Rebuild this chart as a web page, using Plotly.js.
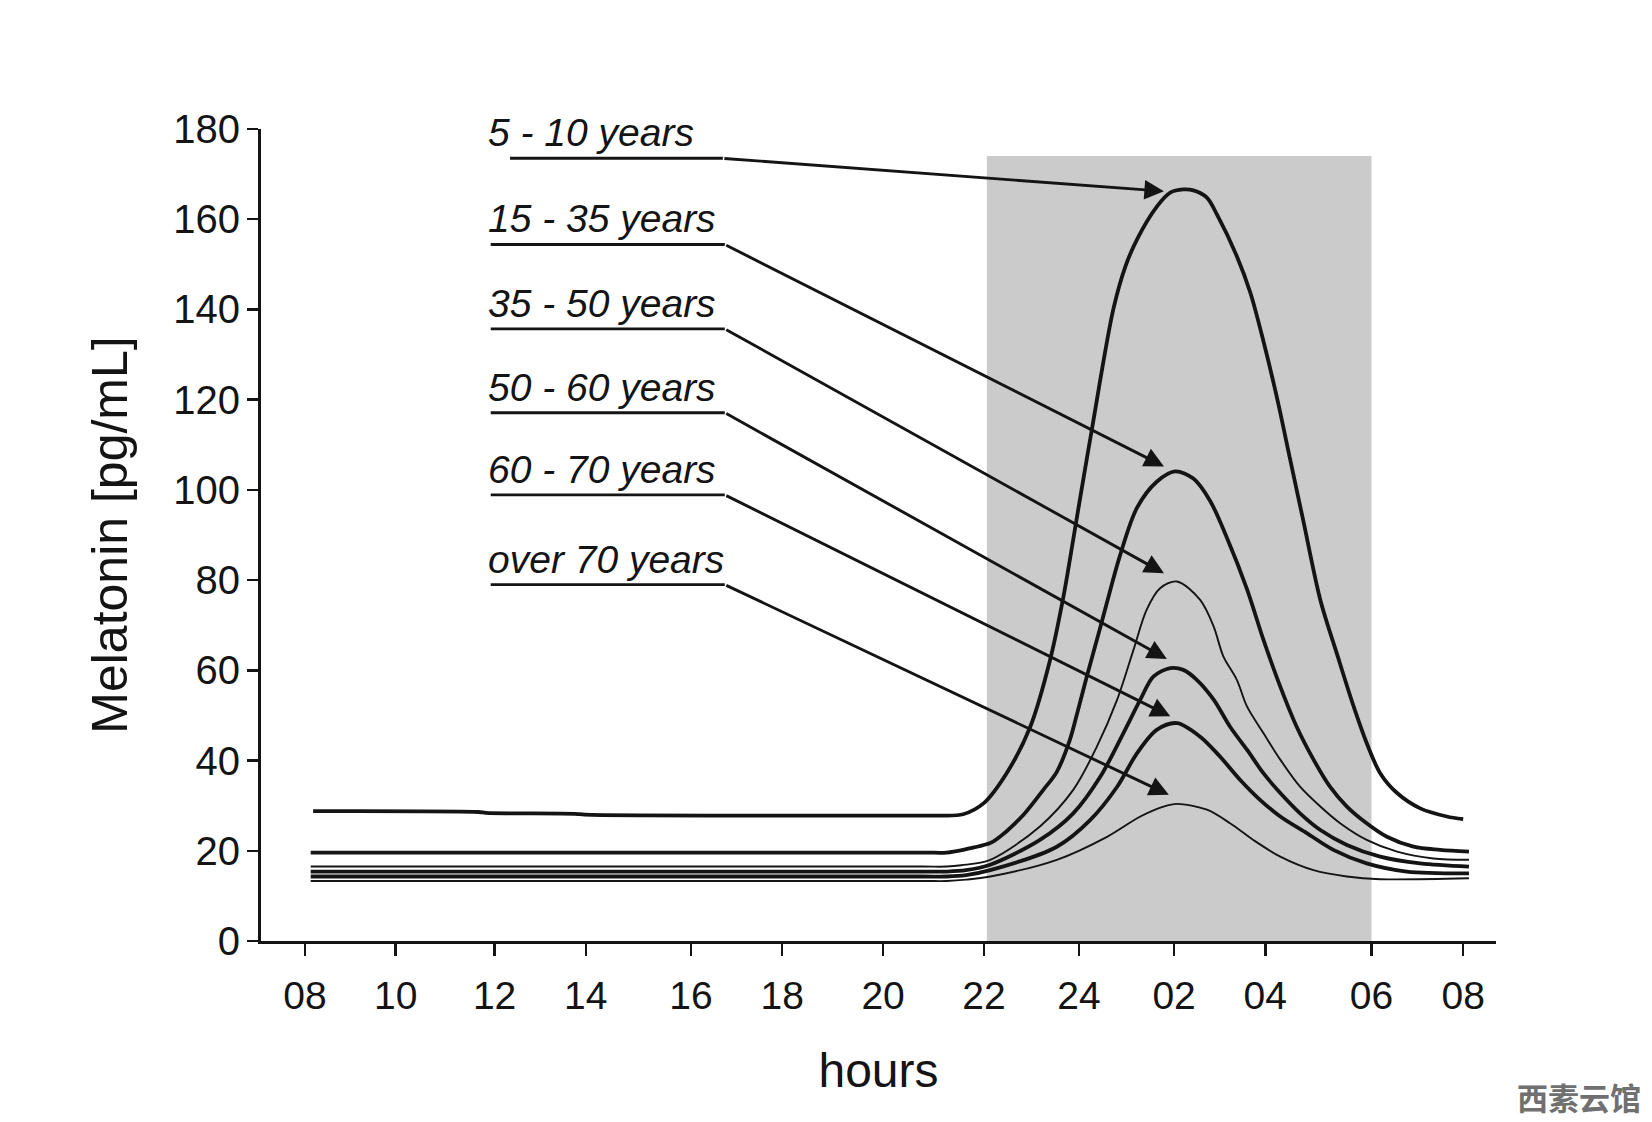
<!DOCTYPE html>
<html>
<head>
<meta charset="utf-8">
<script src="https://cdn.plot.ly/plotly-3.0.1.min.js"></script>
<style>
  html, body { margin: 0; padding: 0; background: #ffffff; }
  #chart { width: 1652px; height: 1122px; }
</style>
</head>
<body>
<div id="chart"></div>
<script>
// ---------- DATA ----------
// x: hours since 08:00 on the figure's own (slightly uneven) hour scale
const groups = ['5 - 10 years', '15 - 35 years', '35 - 50 years', '50 - 60 years', '60 - 70 years', 'over 70 years'];

const tickHours  = [0, 1.88, 3.93, 5.82, 8.0, 9.89, 11.98, 14.07, 16.04, 18.01, 19.90, 22.10, 24];
const tickLabels = ['08', '10', '12', '14', '16', '18', '20', '22', '24', '02', '04', '06', '08'];

const hours_5_10 = [0.17, 3.6, 3.75, 5.6, 5.8, 12.8, 13.2, 13.64, 14.06, 14.54, 15.03, 15.44, 15.72, 15.92, 16.06, 16.30, 16.75, 17.0, 17.24, 17.66, 17.93, 18.20, 18.41, 18.69, 18.90, 19.31, 19.59, 19.86, 20.14, 20.41, 20.69, 21.04, 21.38, 21.73, 22.0, 22.28, 22.63, 23.11, 23.66, 24.0];
const mel_5_10   = [28.8, 28.6, 28.4, 28.2, 28.0, 27.8, 27.8, 28.1, 30.5, 37.2, 47.5, 62.3, 76.5, 89.0, 98.0, 113.0, 140.0, 149.5, 155.5, 162.9, 165.9, 166.6, 166.4, 164.8, 161.0, 151.8, 143.7, 133.0, 120.5, 107.0, 93.0, 75.6, 63.8, 52.0, 43.9, 37.2, 32.8, 29.4, 27.6, 27.0];

const hours_15_35 = [0.12, 12.8, 13.3, 13.64, 14.2, 14.34, 14.89, 15.30, 15.58, 15.85, 15.99, 16.2, 16.48, 16.68, 16.89, 17.24, 17.65, 18.03, 18.41, 18.76, 19.10, 19.52, 19.86, 20.21, 20.55, 20.90, 21.24, 21.59, 22.0, 22.42, 22.97, 23.52, 24.12];
const mel_15_35   = [19.6, 19.6, 19.6, 20.2, 21.7, 22.6, 28.0, 33.5, 37.5, 44.6, 50.0, 58.6, 69.5, 77.5, 85.5, 96.0, 101.8, 104.1, 102.5, 97.5, 89.5, 78.0, 66.8, 56.4, 47.5, 40.2, 34.2, 29.8, 26.1, 23.1, 20.9, 20.2, 19.8];

const hours_35_50 = [0.12, 12.8, 13.3, 13.6, 14.2, 15.23, 15.92, 16.41, 16.83, 17.17, 17.44, 17.72, 18.07, 18.55, 18.83, 19.03, 19.31, 19.52, 19.86, 20.21, 20.62, 21.04, 21.45, 22.0, 22.63, 23.38, 24.12];
const mel_35_50   = [16.5, 16.5, 16.5, 16.8, 18.0, 25.4, 33.5, 43.1, 53.5, 64.6, 73.4, 78.2, 79.7, 75.6, 69.7, 63.1, 57.9, 52.0, 46.1, 40.2, 34.2, 29.8, 26.1, 22.4, 19.8, 18.3, 18.0];

const hours_50_60 = [0.12, 12.8, 13.3, 13.7, 14.2, 15.23, 15.92, 16.48, 16.96, 17.31, 17.58, 17.93, 18.2, 18.48, 18.83, 19.17, 19.52, 19.86, 20.21, 20.62, 21.04, 21.59, 22.28, 23.11, 24.12];
const mel_50_60   = [15.4, 15.4, 15.4, 15.7, 16.9, 22.4, 28.3, 36.4, 46.1, 53.5, 58.6, 60.5, 60.1, 57.9, 53.5, 47.5, 42.4, 37.2, 32.8, 28.3, 24.6, 21.3, 18.7, 17.2, 16.5];

const hours_60_70 = [0.12, 12.8, 13.3, 13.7, 14.2, 15.58, 16.27, 16.83, 17.24, 17.65, 18.07, 18.55, 18.96, 19.38, 19.79, 20.21, 20.76, 21.31, 22.0, 22.83, 24.12];
const mel_60_70   = [14.3, 14.3, 14.3, 14.6, 15.7, 20.9, 26.8, 34.2, 41.6, 46.8, 48.3, 45.3, 40.9, 35.7, 31.3, 27.6, 23.9, 20.2, 17.2, 15.4, 15.0];

const hours_over70 = [0.12, 12.8, 13.3, 13.7, 14.2, 15.58, 16.62, 17.31, 17.79, 18.07, 18.69, 19.17, 19.65, 20.21, 20.9, 21.59, 22.28, 24.12];
const mel_over70   = [13.3, 13.3, 13.3, 13.6, 14.3, 18.0, 23.1, 27.6, 29.8, 30.4, 29.1, 26.1, 22.4, 18.7, 15.7, 14.3, 13.7, 13.9];

// ---------- STYLE / LAYOUT ----------
const INK = '#141414';
const FONT = 'Liberation Sans, Arial, Helvetica, sans-serif';

const seriesX = [hours_5_10, hours_15_35, hours_35_50, hours_50_60, hours_60_70, hours_over70];
const seriesY = [mel_5_10, mel_15_35, mel_35_50, mel_50_60, mel_60_70, mel_over70];
const lineWidths = [3.8, 3.8, 1.9, 3.8, 3.8, 1.9];

const traces = groups.map((g, i) => ({
  type: 'scatter',
  mode: 'lines',
  name: g,
  x: seriesX[i],
  y: seriesY[i],
  line: { color: INK, width: lineWidths[i], shape: 'spline', smoothing: 0.9 },
  hoverinfo: 'skip',
  showlegend: false
}));

// label placement: [text x, underline start x, underline y, bend x, arrow tip x, arrow tip y]
const labelPlace = [
  [3.76, 4.25, 173.5, 8.66, 17.80, 166.2],
  [3.76, 3.85, 154.4, 8.70, 17.80, 105.2],
  [3.76, 3.85, 135.7, 8.70, 17.80, 81.5],
  [3.76, 3.85, 117.1, 8.70, 17.86, 62.5],
  [3.76, 3.85, 98.9, 8.70, 17.93, 49.8],
  [3.76, 3.85, 79.0, 8.70, 17.90, 32.4]
];

const shapes = [{
  type: 'rect', xref: 'x', yref: 'y', layer: 'below',
  x0: 14.13, x1: 22.10, y0: 0, y1: 174,
  fillcolor: '#cbcbcb', line: { width: 0 }
}];
const annotations = [];
groups.forEach((g, i) => {
  const p = labelPlace[i];
  shapes.push({
    type: 'line', xref: 'x', yref: 'y',
    x0: p[1], x1: p[3], y0: p[2], y1: p[2],
    line: { color: INK, width: 2.9 }
  });
  annotations.push({
    xref: 'x', yref: 'y', x: p[0], y: p[2],
    xanchor: 'left', yanchor: 'bottom', yshift: 2,
    text: '<i>' + g + '</i>', showarrow: false,
    font: { family: FONT, size: 39, color: INK }
  });
  annotations.push({
    xref: 'x', yref: 'y', axref: 'x', ayref: 'y',
    x: p[4], y: p[5], ax: p[3], ay: p[2],
    text: '', showarrow: true, arrowhead: 2, arrowsize: 1.35,
    arrowwidth: 2.9, arrowcolor: INK, standoff: 0, startstandoff: 0
  });
});
annotations.push({
  xref: 'paper', yref: 'paper', x: 1.119, y: -0.192,
  xanchor: 'right', yanchor: 'middle', showarrow: false,
  text: '<b>西素云馆</b>',
  font: { family: 'Noto Sans CJK SC', size: 31, color: '#707070' }
});

const layout = {
  width: 1652, height: 1122,
  margin: { l: 261, r: 156, t: 129, b: 181, pad: 0 },
  paper_bgcolor: '#ffffff', plot_bgcolor: 'rgba(0,0,0,0)',
  font: { family: FONT, color: INK },
  showlegend: false,
  xaxis: {
    range: [-0.91, 24.68],
    tickmode: 'array', tickvals: tickHours, ticktext: tickLabels,
    showline: true, linecolor: INK, linewidth: 3,
    ticks: 'outside', ticklen: 12, tickwidth: 2.4, tickcolor: INK,
    showgrid: false, zeroline: false,
    tickfont: { family: FONT, size: 39, color: INK },
    ticklabelstandoff: 6,
    title: { text: 'hours', font: { family: FONT, size: 48, color: INK }, standoff: 38 },
    automargin: false, fixedrange: true
  },
  yaxis: {
    range: [0, 180], tickmode: 'linear', tick0: 0, dtick: 20,
    showline: true, linecolor: INK, linewidth: 3,
    ticks: 'outside', ticklen: 11, tickwidth: 2.4, tickcolor: INK,
    showgrid: false, zeroline: false,
    tickfont: { family: FONT, size: 40, color: INK },
    ticklabelstandoff: -1,
    title: { text: 'Melatonin [pg/mL]', font: { family: FONT, size: 50, color: INK }, standoff: 30 },
    automargin: false, fixedrange: true
  },
  shapes: shapes,
  annotations: annotations
};

Plotly.newPlot('chart', traces, layout, { displayModeBar: false, staticPlot: true });
</script>
</body>
</html>
